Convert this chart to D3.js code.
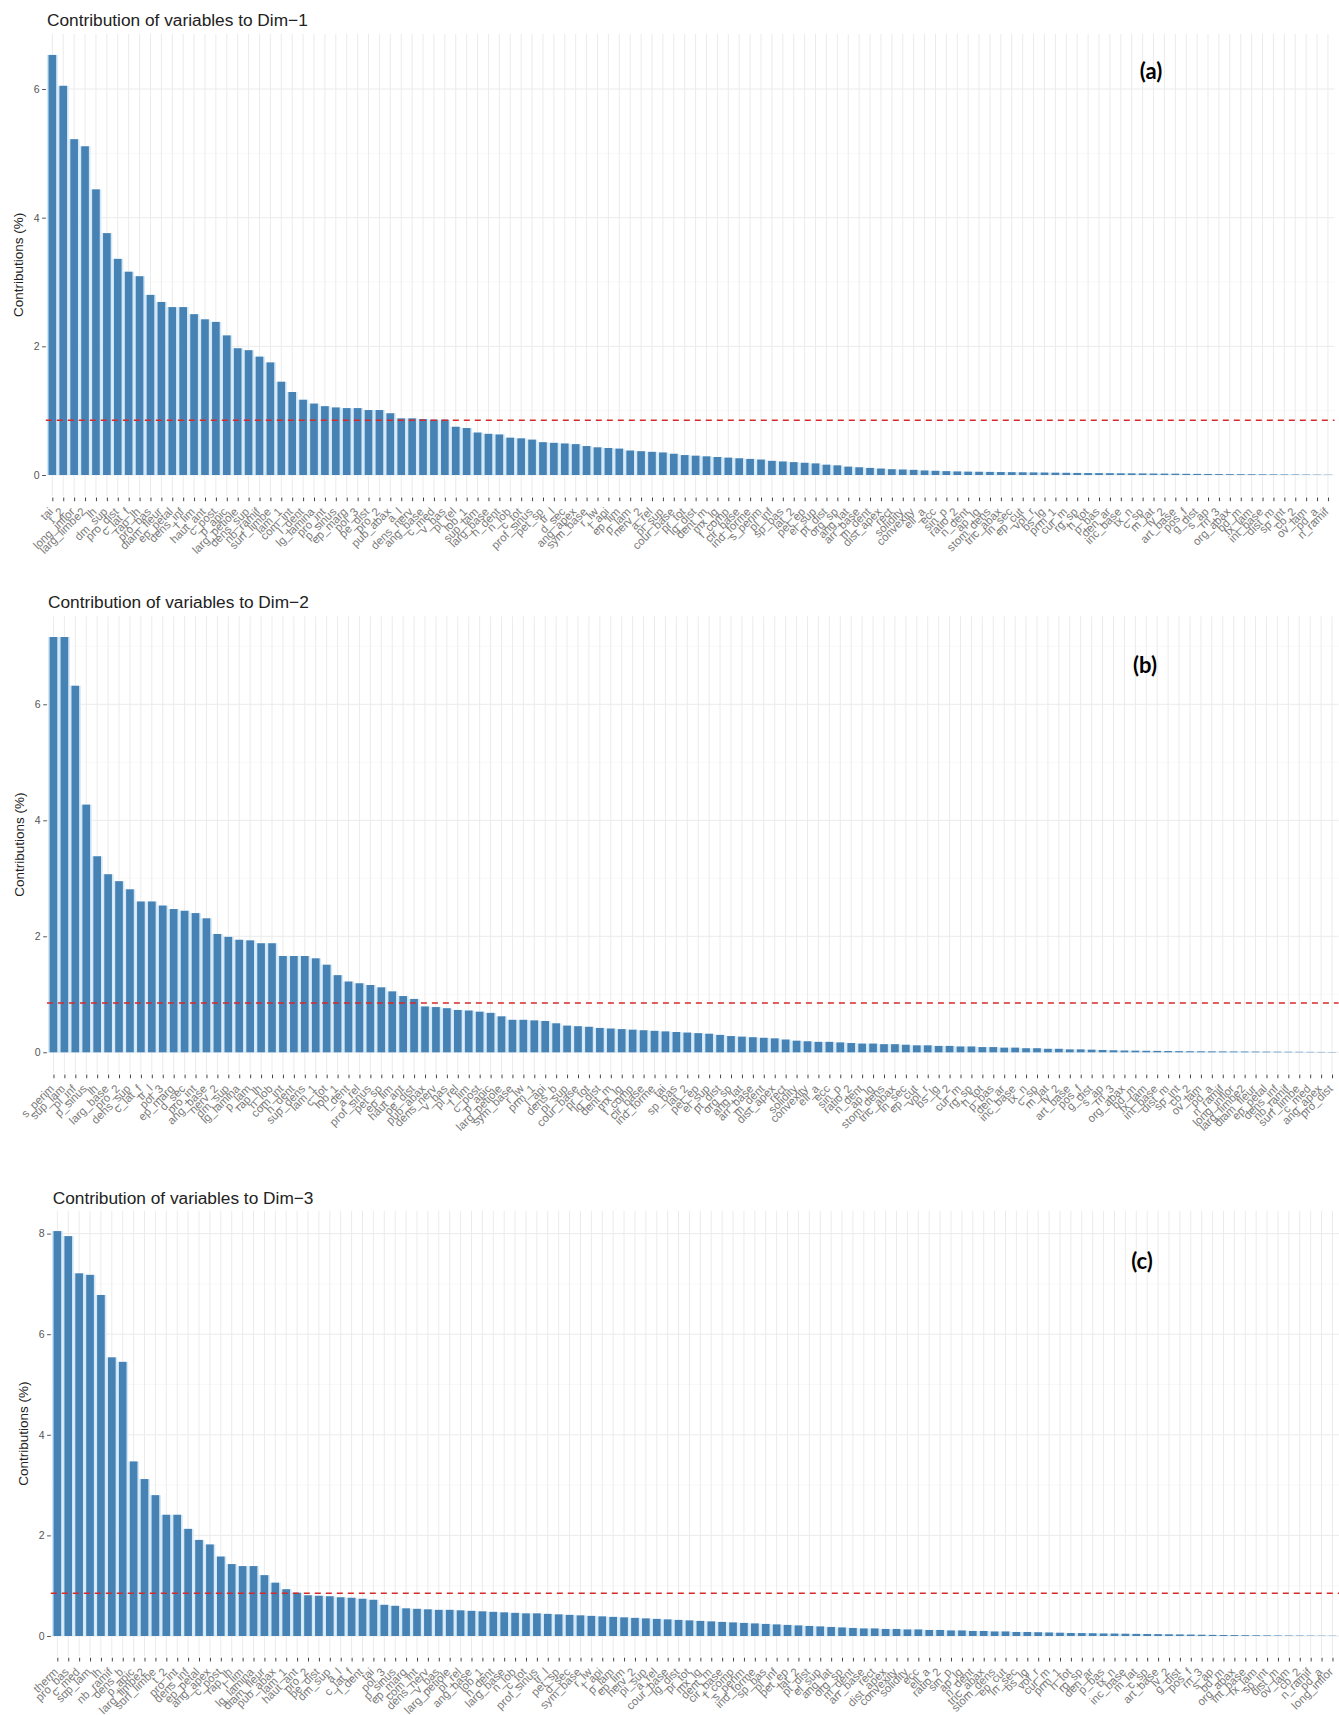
<!DOCTYPE html>
<html><head><meta charset="utf-8">
<script src="https://cdn.jsdelivr.net/npm/d3@7"></script>
<style>body{margin:0;background:#fff}</style>
</head><body>
<svg id="chart" width="1339" height="1715"></svg>
<script>
// ---- data ----
const dim1Values = [
 6.53,6.05,5.22,5.11,4.44,3.76,3.36,3.16,3.09,2.80,
 2.69,2.61,2.61,2.50,2.42,2.38,2.17,1.97,1.94,1.84,
 1.75,1.45,1.29,1.17,1.11,1.07,1.05,1.04,1.04,1.01,
 1.01,0.96,0.88,0.88,0.87,0.86,0.86,0.75,0.73,0.66,
 0.64,0.63,0.58,0.57,0.55,0.51,0.50,0.49,0.48,0.45,
 0.43,0.42,0.41,0.38,0.37,0.36,0.35,0.33,0.31,0.30,
 0.29,0.28,0.27,0.26,0.25,0.24,0.22,0.21,0.20,0.19,
 0.18,0.16,0.15,0.13,0.12,0.11,0.10,0.09,0.085,0.08,
 0.07,0.065,0.06,0.055,0.052,0.05,0.048,0.046,0.044,0.042,
 0.04,0.038,0.036,0.034,0.032,0.03,0.029,0.028,0.026,0.025,
 0.024,0.022,0.021,0.02,0.018,0.017,0.016,0.014,0.013,0.012,
 0.011,0.01,0.009,0.008,0.007,0.006,0.005,0.004];
const dim2Values = [
 7.16,7.16,6.32,4.27,3.38,3.07,2.95,2.81,2.60,2.60,
 2.53,2.47,2.44,2.40,2.31,2.04,1.99,1.94,1.93,1.88,
 1.88,1.66,1.66,1.66,1.62,1.51,1.33,1.22,1.19,1.16,
 1.12,1.05,0.97,0.92,0.79,0.78,0.76,0.73,0.72,0.70,
 0.68,0.62,0.56,0.56,0.55,0.54,0.50,0.46,0.45,0.44,
 0.42,0.41,0.40,0.39,0.38,0.37,0.36,0.35,0.34,0.33,
 0.32,0.30,0.28,0.27,0.26,0.25,0.24,0.22,0.20,0.19,
 0.18,0.18,0.17,0.16,0.15,0.15,0.14,0.14,0.13,0.12,
 0.12,0.11,0.11,0.10,0.10,0.09,0.09,0.08,0.08,0.07,
 0.07,0.06,0.06,0.05,0.05,0.045,0.04,0.035,0.03,0.028,
 0.026,0.024,0.022,0.02,0.018,0.017,0.016,0.015,0.014,0.013,
 0.012,0.011,0.01,0.009,0.008,0.007,0.006,0.005];
const dim3Values = [
 8.05,7.95,7.21,7.18,6.78,5.54,5.45,3.47,3.12,2.80,
 2.41,2.41,2.13,1.91,1.82,1.58,1.43,1.39,1.39,1.21,
 1.06,0.93,0.86,0.81,0.80,0.79,0.77,0.76,0.74,0.72,
 0.62,0.60,0.55,0.54,0.53,0.52,0.52,0.51,0.50,0.49,
 0.48,0.47,0.46,0.45,0.45,0.44,0.43,0.42,0.41,0.40,
 0.39,0.38,0.37,0.36,0.35,0.34,0.33,0.32,0.31,0.30,
 0.29,0.28,0.27,0.26,0.25,0.24,0.23,0.22,0.21,0.20,
 0.19,0.18,0.17,0.16,0.15,0.15,0.14,0.14,0.13,0.13,
 0.12,0.12,0.11,0.11,0.10,0.10,0.09,0.09,0.08,0.08,
 0.075,0.07,0.065,0.06,0.058,0.055,0.05,0.048,0.045,0.042,
 0.04,0.037,0.034,0.031,0.028,0.025,0.022,0.02,0.018,0.016,
 0.014,0.012,0.01,0.009,0.008,0.007,0.006,0.005];

const dim1Labels = ("tai t_2 long_inflor larg_limbe2 lh dm_sup pro_dist c_lat_f rap_lh pro_bas " +
 "diam_fleur ep_petal dens_inf l_lim haut_ant c_post p_apic larg_petiole dens_sup nb_ramif " +
 "surf_limbe lam_1 com_int l_dent lg_lamina pro_int p_sinus ep_marg pol_3 pe_dist " +
 "pro_2 pub_abax a_l dens_nerv ang_base c_med v_bas pl_rel lob_1 sup_lam " +
 "larg_base h_dent n_lob c_tot prof_sinus pet_sp tr_l d_sec ang_apex sym_base " +
 "r_lw l_api ep_lim p_lam nerv_2 a_rel pi_sup cour_base pr_tot lg_dist " +
 "dent_m mx_lg f_comp cir_base ind_forme s_perim pl_inf sp_bas lat_2 pet_ep " +
 "el_sup pt_dist org_sp ang_lat arr_base m_dent dist_apex rect solidity convexity " +
 "ell_a ecc sin_p ratio_2 n_dent ap_lg stom_dens tric_abax ln_sec ep_cut " +
 "vol_r bs_lg prm_1 cur_m rg_sp h_tot p_bas den_ar inc_base tx_n " +
 "c_sp m_lat lv_2 art_base pos_f g_dist s_ap rn_3 org_abax bd_m " +
 "fx_lam int_base dist_m sp_int cb_2 ov_lam pd_a n_ramif").split(" ");
const dim2Labels = ("s_perim sup_lam pl_inf p_sinus lh larg_base pro_2 dens_sup c_lat_f tr_l " +
 "pol_3 ep_marg d_sec pro_int ang_base nerv_2 dm_sup lg_lamina p_lam rap_lh " +
 "n_lob com_int h_dent sup_dens lam_1 c_tot lob_1 l_dent a_rel prof_sinus " +
 "pet_sp ep_lim haut_ant pe_dist pub_abax dens_nerv v_bas pl_rel l_lim c_post " +
 "p_apic larg_petiole sym_base r_lw prm_1 l_api dens_b pi_sup cour_base pr_tot " +
 "lg_dist dent_m mx_lg f_comp cir_base ind_forme tai sp_bas lat_2 pet_ep " +
 "el_sup pt_dist org_sp ang_lat arr_base m_dent dist_apex rect solidity convexity " +
 "ell_a ecc sin_p ratio_2 n_dent ap_lg stom_dens tric_abax ln_sec ep_cut " +
 "vol_r bs_lg t_2 cur_m rg_sp h_tot p_bas den_ar inc_base tx_n " +
 "c_sp m_lat lv_2 art_base pos_f g_dist s_ap rn_3 org_abax bd_m " +
 "fx_lam int_base dist_m sp_int cb_2 ov_lam pd_a n_ramif long_inflor larg_limbe2 " +
 "diam_fleur ep_petal dens_inf nb_ramif surf_limbe c_med ang_apex pro_dist").split(" ");
const dim3Labels = ("therm pro_bas c_med sup_lam lh nb_ramif dens_b p_apic larg_limbe2 surf_limbe " +
 "t_2 pro_int dens_inf ep_petal ang_apex c_post rap_lh l_lim lg_lamina diam_fleur " +
 "pub_abax lam_1 haut_ant pro_2 pe_dist dm_sup a_l c_lat_f l_dent tai " +
 "pol_3 p_sinus ep_marg com_int dens_nerv v_bas larg_petiole pl_rel ang_base lob_1 " +
 "h_dent larg_base n_lob c_tot prof_sinus tr_l pet_sp d_sec sym_base r_lw " +
 "l_api p_lam ep_lim nerv_2 pi_sup a_rel cour_base lg_dist pr_tot mx_lg " +
 "dent_m cir_base f_comp s_perim ind_forme sp_bas pl_inf pet_ep lat_2 pt_dist " +
 "el_sup ang_lat org_sp m_dent arr_base rect dist_apex convexity solidity ecc " +
 "ell_a ratio_2 sin_p ap_lg n_dent tric_abax stom_dens ep_cut ln_sec bs_lg " +
 "vol_r cur_m prm_1 h_tot rg_sp den_ar p_bas tx_n inc_base m_lat " +
 "c_sp art_base lv_2 g_dist pos_f rn_3 s_ap bd_m org_abax int_base " +
 "fx_lam sp_int dist_m ov_lam cb_2 n_ramif pd_a long_inflor").split(" ");

const panelTitles = ["Contribution of variables to Dim\u22121",
                     "Contribution of variables to Dim\u22122",
                     "Contribution of variables to Dim\u22123"];
const panelTags = ["(a)", "(b)", "(c)"];
const refLines = [0.85, 0.85, 0.85];
const yTickValues = [[0,2,4,6],[0,2,4,6],[0,2,4,6,8]];

// ---- layout ----
const layout = [
 {left:45.8, right:1334.5, zero:475,    unit:64.33, titleX:47,   titleY:26,   axisTitleX:18, tagX:1151, tagY:79},
 {left:46.9, right:1338.6, zero:1052.3, unit:58.0,  titleX:48,   titleY:608,  axisTitleX:19, tagX:1145, tagY:673},
 {left:50.8, right:1339.0, zero:1636,   unit:50.3,  titleX:52.7, titleY:1204, axisTitleX:23, tagX:1142, tagY:1269}
];
const valuesAll = [dim1Values, dim2Values, dim3Values];
const labelsAll = [dim1Labels, dim2Labels, dim3Labels];

const svg = d3.select("#chart");
const FONT = "'Liberation Sans', Arial, sans-serif";

valuesAll.forEach((values, p) => {
  const L = layout[p];
  const labels = labelsAll[p];
  const n = values.length;
  const vmax = d3.max(values);
  const pad = 0.05 * vmax;
  const yTop = L.zero - (vmax + pad) * L.unit;
  const yBot = L.zero + pad * L.unit;
  const x = d3.scalePoint().domain(d3.range(n)).range([L.left, L.right]).padding(0.6);
  const y = d3.scaleLinear().domain([-pad, vmax + pad]).range([yBot, yTop]);
  const step = x.step();
  const bw = step * 0.7;
  const g = svg.append("g");

  const minor = d3.range(1, Math.ceil(vmax + pad), 2).filter(v => v < vmax + pad);
  g.selectAll(".minor").data(minor).join("line")
    .attr("x1", L.left).attr("x2", L.right)
    .attr("y1", d => y(d)).attr("y2", d => y(d))
    .attr("stroke", "#f4f4f4").attr("stroke-width", 0.6);
  g.selectAll(".major").data(yTickValues[p]).join("line")
    .attr("x1", L.left).attr("x2", L.right)
    .attr("y1", d => y(d)).attr("y2", d => y(d))
    .attr("stroke", "#ebebeb").attr("stroke-width", 1);
  g.selectAll(".vgrid").data(d3.range(n)).join("line")
    .attr("x1", d => x(d)).attr("x2", d => x(d))
    .attr("y1", yTop).attr("y2", yBot)
    .attr("stroke", "#ebebeb").attr("stroke-width", 1);

  g.selectAll(".halo").data(values).join("rect")
    .attr("x", (d, i) => x(i) - step / 2)
    .attr("width", step)
    .attr("y", d => y(d))
    .attr("height", d => y(0) - y(d))
    .attr("fill", "#d3e8f7");
  g.selectAll(".bar").data(values).join("rect")
    .attr("x", (d, i) => x(i) - bw / 2)
    .attr("width", bw)
    .attr("y", d => y(d))
    .attr("height", d => y(0) - y(d))
    .attr("fill", "#4682B4");

  g.append("line")
    .attr("x1", L.left).attr("x2", L.right)
    .attr("y1", y(refLines[p])).attr("y2", y(refLines[p]))
    .attr("stroke", "#d62a2a").attr("stroke-width", 1.4)
    .attr("stroke-dasharray", "6,5");

  const yAxis = d3.axisLeft(y).tickValues(yTickValues[p]).tickSize(3.7).tickPadding(2.5);
  const ya = g.append("g").attr("transform", `translate(${L.left},0)`).call(yAxis);
  ya.select(".domain").remove();
  ya.selectAll(".tick line").attr("stroke", "#555");
  ya.selectAll(".tick text").attr("fill", "#555").attr("font-size", 10.5).attr("font-family", FONT);

  const xAxis = d3.axisBottom(x).tickSize(3.7).tickPadding(2).tickFormat(i => labels[i] || "");
  const xa = g.append("g").attr("transform", `translate(0,${yBot + 1.5})`).call(xAxis);
  xa.select(".domain").remove();
  xa.selectAll(".tick line").attr("stroke", "#444");
  xa.selectAll(".tick text")
    .attr("fill", "#7a7a7a").attr("font-size", 11.5).attr("font-family", FONT)
    .attr("text-anchor", "end")
    .attr("transform", "translate(-6,8) rotate(-45)")
    .attr("dy", "0.35em");

  g.append("text")
    .attr("transform", `translate(${L.axisTitleX},${(yTop + yBot) / 2}) rotate(-90)`)
    .attr("text-anchor", "middle").attr("dy", "0.35em")
    .attr("font-family", FONT).attr("font-size", 13.5).attr("fill", "#222")
    .text("Contributions (%)");

  g.append("text")
    .attr("x", L.titleX).attr("y", L.titleY)
    .attr("font-family", FONT).attr("font-size", 17.3).attr("fill", "#222")
    .text(panelTitles[p]);

  g.append("text")
    .attr("x", L.tagX).attr("y", L.tagY)
    .attr("text-anchor", "middle")
    .attr("font-family", "Lato, 'Open Sans', sans-serif").attr("font-weight", 700)
    .attr("font-size", 22).attr("fill", "#000")
    .text(panelTags[p]);
});
</script>
</body></html>
